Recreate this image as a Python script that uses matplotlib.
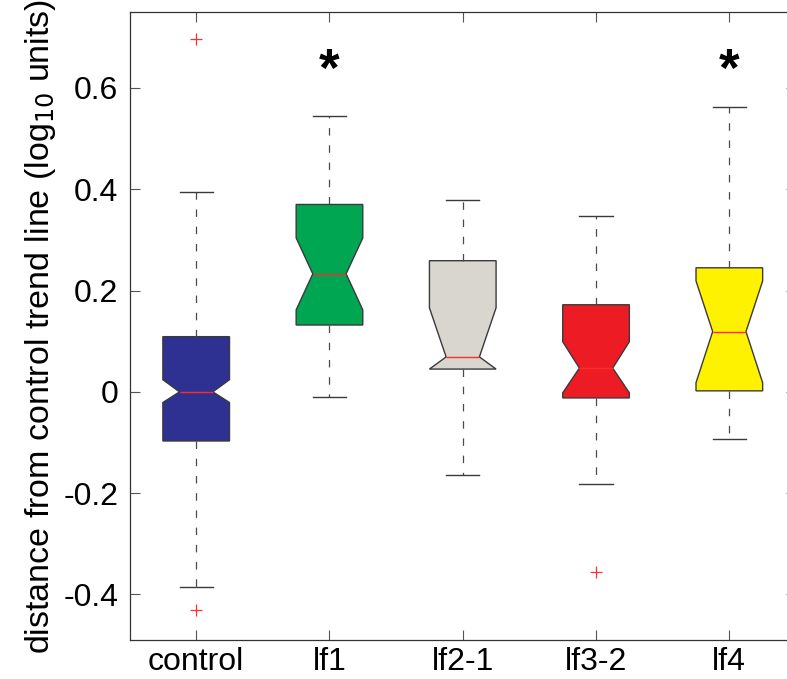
import matplotlib
matplotlib.use("Agg")
import matplotlib.pyplot as plt

# group summaries (log10 units)
groups = ["control", "lf1", "lf2-1", "lf3-2", "lf4"]
whislo = [-0.385, -0.010, -0.164, -0.182, -0.093]
q1 = [-0.097, 0.132, 0.045, -0.012, 0.002]
cilo = [-0.021, 0.162, 0.045, -0.002, 0.018]
med = [0.000, 0.233, 0.069, 0.047, 0.119]
cihi = [0.024, 0.304, 0.166, 0.099, 0.219]
q3 = [0.109, 0.370, 0.259, 0.172, 0.245]
whishi = [0.395, 0.545, 0.379, 0.348, 0.563]
fliers = [[0.696, -0.431], [], [], [-0.356], []]
significant = [False, True, False, False, True]
colors = ["#2e3192", "#00a651", "#d9d6d0", "#ed1c24", "#fff200"]

plt.rcParams["font.family"] = ["Liberation Sans", "DejaVu Sans"]
plt.rcParams["lines.scale_dashes"] = False

fig = plt.figure(figsize=(7.87, 6.79), dpi=100)
ax = fig.add_axes([0.1646, 0.0574, 0.8468, 0.9249])

stats = []
for i, name in enumerate(groups):
    stats.append(dict(label=name, whislo=whislo[i], q1=q1[i], cilo=cilo[i], med=med[i],
                      cihi=cihi[i], q3=q3[i], whishi=whishi[i], fliers=fliers[i]))

edge = "#3a3a3a"
bp = ax.bxp(
    stats, positions=range(1, len(groups) + 1), widths=0.5, shownotches=True,
    patch_artist=True,
    boxprops=dict(edgecolor=edge, linewidth=1.0),
    medianprops=dict(color="#ff2a2a", linewidth=1.0),
    whiskerprops=dict(color="#4a4a4a", linewidth=0.9, linestyle=(0, (5.4, 7.0))),
    capprops=dict(color=edge, linewidth=1.0),
    flierprops=dict(marker="+", markeredgecolor="#ff3030", markersize=9, markeredgewidth=0.9),
)
for patch, c in zip(bp["boxes"], colors):
    patch.set_facecolor(c)

for i, sig in enumerate(significant):
    if sig:
        ax.text(i + 1, 0.632, "*", ha="center", va="center", fontsize=38, fontweight="bold")

ax.set_xlim(0.5, 5.5)
ax.set_ylim(-0.49, 0.75)
ax.set_yticks([-0.4, -0.2, 0, 0.2, 0.4, 0.6])
ax.set_yticklabels(["-0.4", "-0.2", "0", "0.2", "0.4", "0.6"])
ax.set_xticks(range(1, len(groups) + 1))
ax.set_xticklabels(groups)
ax.tick_params(direction="in", length=7, width=0.8, color="#555555", labelsize=23,
               top=True, right=True)
ax.tick_params(axis="y", pad=8)
ax.tick_params(axis="x", pad=5)
for s in ax.spines.values():
    s.set_linewidth(0.9)
    s.set_color("#333333")
ax.set_ylabel(r"distance from control trend line (log$_{10}$ units)", fontsize=24.5, labelpad=4)

fig.savefig("out.png", dpi=100)
